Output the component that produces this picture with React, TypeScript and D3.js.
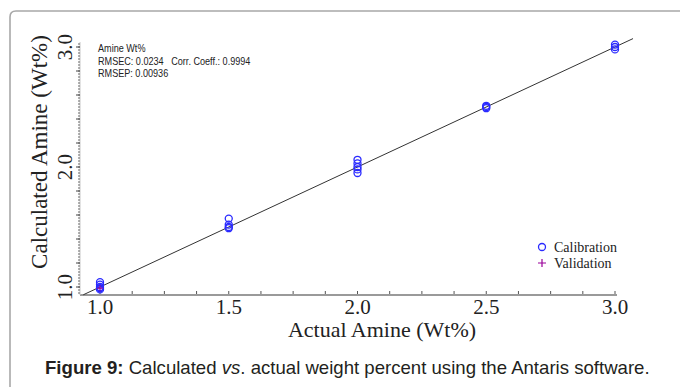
import * as d3 from 'd3';
import { useEffect, useRef } from 'react';

// calibration samples: actual vs calculated amine (Wt%)
const calActual = [1.0, 1.0, 1.0, 1.0, 1.0, 1.5, 1.5, 1.5, 1.5, 2.0, 2.0, 2.0, 2.0, 2.0, 2.5, 2.5, 2.5, 3.0, 3.0, 3.0];
const calPredicted = [1.04, 1.02, 1.0, 0.99, 0.98, 1.57, 1.52, 1.5, 1.49, 2.06, 2.03, 2.0, 1.98, 1.95, 2.49, 2.5, 2.51, 3.02, 3.0, 2.98];
const valActual = [1.0];
const valPredicted = [0.99];
const fitLine = [0.935, 3.07];
const xTickLabels = ['1.0', '1.5', '2.0', '2.5', '3.0'];
const yTickLabels = ['1.0', '2.0', '3.0'];
const statLines = ['Amine Wt%', 'RMSEC: 0.0234   Corr. Coeff.: 0.9994', 'RMSEP: 0.00936'];
const legendItems = ['Calibration', 'Validation'];

const App = () => {
	const svgRef = useRef(null);

	useEffect(() => {
		const width = 681;
		const height = 387;
		const serif = '"Liberation Serif", "Times New Roman", serif';
		const sans = '"Liberation Sans", Arial, sans-serif';

		const x = d3.scaleLinear().domain([1, 3]).range([100, 615]);
		const y = d3.scaleLinear().domain([1, 3]).range([287, 47]);
		const axisY = 295;
		const axisX = 80;

		const svg = d3.select(svgRef.current);
		svg.selectAll('*').remove();
		svg.attr('width', width).attr('height', height).attr('viewBox', [0, 0, width, height]);

		svg.append('rect').attr('width', width).attr('height', height).attr('fill', '#fff');

		// outer frame (rounded top-left corner)
		svg
			.append('path')
			.attr('d', 'M10,392 L10,17 Q10,11 16,11 L680,11')
			.attr('fill', 'none')
			.attr('stroke', '#a8a8a8')
			.attr('stroke-width', 1.6);

		// x axis
		svg
			.append('line')
			.attr('x1', axisX)
			.attr('x2', 617)
			.attr('y1', axisY)
			.attr('y2', axisY)
			.attr('stroke', '#9a9a9a')
			.attr('stroke-width', 2);
		d3.range(1, 3.001, 0.125).forEach(v => {
			svg
				.append('line')
				.attr('x1', x(v))
				.attr('x2', x(v))
				.attr('y1', axisY - 1)
				.attr('y2', axisY - 4)
				.attr('stroke', '#555')
				.attr('stroke-width', 1);
		});
		xTickLabels.forEach(t => {
			svg
				.append('text')
				.attr('x', x(+t))
				.attr('y', 314)
				.attr('text-anchor', 'middle')
				.attr('font-family', serif)
				.attr('font-size', 21)
				.attr('fill', '#222')
				.text(t);
		});
		svg
			.append('text')
			.attr('x', 382)
			.attr('y', 337)
			.attr('text-anchor', 'middle')
			.attr('font-family', serif)
			.attr('font-size', 22)
			.attr('fill', '#222')
			.text('Actual Amine (Wt%)');

		// y axis: dotted look
		svg
			.append('line')
			.attr('x1', axisX)
			.attr('x2', axisX)
			.attr('y1', 42)
			.attr('y2', axisY)
			.attr('stroke', '#c8c8c8')
			.attr('stroke-width', 1);
		d3.range(0.95, 3.03, 0.025).forEach(v => {
			svg
				.append('line')
				.attr('x1', axisX - 2)
				.attr('x2', axisX)
				.attr('y1', y(v))
				.attr('y2', y(v))
				.attr('stroke', '#666')
				.attr('stroke-width', 1);
		});
		d3.range(1, 3.01, 0.2).forEach(v => {
			svg
				.append('line')
				.attr('x1', axisX - 4)
				.attr('x2', axisX)
				.attr('y1', y(v))
				.attr('y2', y(v))
				.attr('stroke', '#444')
				.attr('stroke-width', 1);
		});
		yTickLabels.forEach(t => {
			svg
				.append('text')
				.attr('transform', `translate(72,${y(+t)}) rotate(-90)`)
				.attr('text-anchor', 'middle')
				.attr('font-family', serif)
				.attr('font-size', 21)
				.attr('fill', '#222')
				.text(t);
		});
		svg
			.append('text')
			.attr('transform', 'translate(47,152) rotate(-90)')
			.attr('text-anchor', 'middle')
			.attr('font-family', serif)
			.attr('font-size', 23)
			.attr('fill', '#222')
			.text('Calculated Amine (Wt%)');

		// stats box (narrow face)
		statLines.forEach((s, i) => {
			svg
				.append('text')
				.attr('transform', `translate(98,${52 + i * 12.5}) scale(0.91,1)`)
				.attr('font-family', sans)
				.attr('font-size', 10)
				.attr('fill', '#222')
				.style('white-space', 'pre')
				.text(s);
		});

		// regression line
		svg
			.append('line')
			.attr('x1', x(fitLine[0]))
			.attr('y1', y(fitLine[0]))
			.attr('x2', x(fitLine[1]))
			.attr('y2', y(fitLine[1]))
			.attr('stroke', '#333')
			.attr('stroke-width', 1);

		// calibration points
		svg
			.append('g')
			.selectAll('circle')
			.data(calActual)
			.join('circle')
			.attr('cx', d => x(d))
			.attr('cy', (_, i) => y(calPredicted[i]))
			.attr('r', 3.5)
			.attr('fill', 'none')
			.attr('stroke', '#2a2aff')
			.attr('stroke-width', 1.3);

		// validation points
		valActual.forEach((v, i) => {
			const px = x(v);
			const py = y(valPredicted[i]);
			svg
				.append('path')
				.attr('d', `M${px - 3},${py}H${px + 3}M${px},${py - 3}V${py + 3}`)
				.attr('stroke', '#990099')
				.attr('stroke-width', 1);
		});

		// legend
		legendItems.forEach((name, i) => {
			const ly = 247 + i * 16;
			if (i === 0) {
				svg
					.append('circle')
					.attr('cx', 542)
					.attr('cy', ly)
					.attr('r', 3.5)
					.attr('fill', 'none')
					.attr('stroke', '#2a2aff')
					.attr('stroke-width', 1.3);
			} else {
				svg
					.append('path')
					.attr('d', `M538,${ly}H546M542,${ly - 4}V${ly + 4}`)
					.attr('stroke', '#990099')
					.attr('stroke-width', 1.2);
			}
			svg
				.append('text')
				.attr('x', 554)
				.attr('y', ly + 5)
				.attr('font-family', serif)
				.attr('font-size', 14)
				.attr('fill', '#222')
				.text(name);
		});

		// caption
		const cap = svg
			.append('text')
			.attr('x', 45)
			.attr('y', 374)
			.attr('font-family', sans)
			.attr('font-size', 18.6)
			.attr('fill', '#231f20');
		cap.append('tspan').attr('font-weight', 'bold').text('Figure 9:');
		cap.append('tspan').text(' Calculated ');
		cap.append('tspan').attr('font-style', 'italic').text('vs');
		cap.append('tspan').text('. actual weight percent using the Antaris software.');
	}, []);

	return <svg ref={svgRef} style={{ position: 'absolute', left: 0, top: 0, display: 'block' }} />;
};

export default App;
